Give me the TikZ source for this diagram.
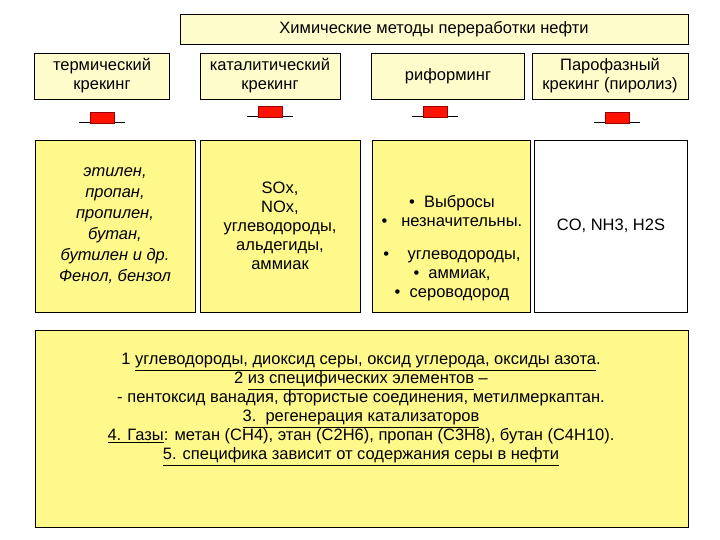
\documentclass[tikz,border=0pt]{standalone}
\usepackage{fontspec}
\setmainfont{Liberation Sans}
\newcommand\myul[1]{\underline{#1}}
\begin{document}
\begin{tikzpicture}[x=1pt,y=-1pt,
  pale/.style={draw=black,fill=yellow!20,line width=0.6pt},
  cont/.style={draw=black,fill=yellow!45,line width=0.6pt},
  txt/.style={align=center,font=\fontsize{16.5}{19}\selectfont},
  arr/.style={fill=red!85!orange,draw=red!60!black,line width=0.3pt}]
\useasboundingbox (0,0) rectangle (720,540);
\fill[white] (0,0) rectangle (720,540);
\node[pale,minimum width=508,minimum height=30,txt] (title) at (434,29) {Химические методы переработки нефти};
\node[pale,minimum width=135,minimum height=46,txt] (h1) at (102,76) {термический\\крекинг};
\node[pale,minimum width=140,minimum height=46,txt] (h2) at (270,76) {каталитический\\крекинг};
\node[pale,minimum width=153,minimum height=46,txt] (h3) at (448,76) {риформинг};
\node[pale,minimum width=156,minimum height=46,txt] (h4) at (610,76) {Парофазный\\крекинг (пиролиз)};
\foreach \c/\y [count=\i] in {102/118,270/112,435/112,617/118}{
  \draw[line width=0.9pt] (\c-23,\y+4) -- (\c+23,\y+4);
  \node[arr,minimum width=24,minimum height=11,inner sep=0] (a\i) at (\c,\y) {};
}
\node[cont,minimum width=160,minimum height=172,txt,font=\itshape\fontsize{16.5}{21}\selectfont] (b1) at (115,226) {этилен,\\пропан,\\пропилен,\\бутан,\\бутилен и др.\\Фенол, бензол};
\node[cont,minimum width=160,minimum height=172,txt] (b2) at (280,226) {SOx,\\NOx,\\углеводороды,\\альдегиды,\\аммиак};
\node[cont,minimum width=158,minimum height=172,txt] (b3) at (451,226) {};
\node[txt,anchor=center] (b3t) at (452,248) {\textbullet\ \ Выбросы\\\textbullet\ \ \ незначительны.\\[14pt]\textbullet\ \ \ \ углеводороды,\\\textbullet\ \ аммиак,\\\textbullet\ \ сероводород};
\node[draw=black,fill=white,line width=0.6pt,minimum width=153,minimum height=172,txt] (b4) at (611,226) {CO, NH3, H2S};
\node[cont,minimum width=653,minimum height=197,anchor=north west] (bot) at (35,330) {};
\node[txt,anchor=north] (bt) at (361,350) {1 \myul{углеводороды, диоксид серы, оксид углерода, оксиды азота}.\\2 \myul{из специфических элементов} –\\- пентоксид ванадия, фтористые соединения, метилмеркаптан.\\\myul{3.\ \ регенерация катализаторов}\\\myul{4. Газы}: метан (CH4), этан (C2H6), пропан (C3H8), бутан (C4H10).\\\myul{5. специфика зависит от содержания серы в нефти}};
\end{tikzpicture}
\end{document}
